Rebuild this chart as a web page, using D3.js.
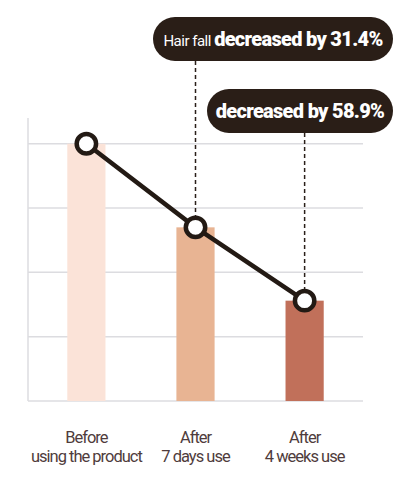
<!DOCTYPE html>
<html>
<head>
<meta charset="utf-8">
<script src="https://cdn.jsdelivr.net/npm/d3@7"></script>
<style>
  body { margin: 0; background: #fff; }
  svg text { font-family: Roboto, "Liberation Sans", sans-serif; }
</style>
</head>
<body>
<div id="body"></div>
<script>
// chart values
let stages = ["before", "week1", "week4"];
let stageLabels = [["Before", "using the product"], ["After", "7 days use"], ["After", "4 weeks use"]];
let hairFall = [100, 67.5, 39];
let barColors = ["#fbe3d8", "#e8b493", "#c1705a"];
let gridTicks = [0, 25, 50, 75, 100];
let callouts = [
  { stage: "week1", light: "Hair fall ", bold: "decreased by 31.4%" },
  { stage: "week4", light: "", bold: "decreased by 58.9%" }
];

let width = 398,
  height = 480;

let svg = d3.select("#body")
  .append("svg")
  .attr("width", width)
  .attr("height", height);

let x = d3.scaleBand()
  .domain(stages)
  .range([28, 363])
  .paddingInner(0.65)
  .paddingOuter(0.36);

let y = d3.scaleLinear()
  .domain([0, 110])
  .range([401, 118]);

// gridlines
svg.selectAll(".grid")
  .data(gridTicks)
  .enter()
  .append("line")
  .attr("x1", 28)
  .attr("x2", 363)
  .attr("y1", (d) => y(d))
  .attr("y2", (d) => y(d))
  .style("stroke", "#dcdce0")
  .style("stroke-width", 1.5);

// left axis line
svg.append("line")
  .attr("x1", 28)
  .attr("x2", 28)
  .attr("y1", y(0))
  .attr("y2", y(110))
  .style("stroke", "#dcdce0")
  .style("stroke-width", 1.5);

// bars
svg.selectAll(".bar")
  .data(hairFall)
  .enter()
  .append("rect")
  .attr("x", (d, i) => x(stages[i]))
  .attr("width", x.bandwidth())
  .attr("y", (d) => y(d))
  .attr("height", (d) => y(0) - y(d))
  .style("fill", (d, i) => barColors[i]);

// callout boxes with dashed leaders
let boxTop = [17, 89];
let boxLeft = [153, 207];
let boxRight = 393;
let boxH = 44;

callouts.forEach(function(c, k) {
  let i = stages.indexOf(c.stage);
  let cx = x(c.stage) + x.bandwidth() / 2;
  svg.append("line")
    .attr("x1", cx)
    .attr("x2", cx)
    .attr("y1", boxTop[k] + boxH)
    .attr("y2", y(hairFall[i]))
    .style("stroke", "#2a1f19")
    .style("stroke-width", 1.5)
    .style("stroke-dasharray", "4,3");

  svg.append("rect")
    .attr("x", boxLeft[k])
    .attr("y", boxTop[k])
    .attr("width", boxRight - boxLeft[k])
    .attr("height", boxH)
    .attr("rx", boxH / 2)
    .style("fill", "#2a1e17");

  let t = svg.append("text")
    .attr("x", (boxLeft[k] + boxRight) / 2)
    .attr("y", boxTop[k] + boxH / 2 + 7)
    .attr("text-anchor", "middle")
    .style("fill", "#fff");
  if (c.light) {
    t.append("tspan")
      .style("font-size", "15px")
      .style("letter-spacing", "-0.5px")
      .text(c.light);
  }
  t.append("tspan")
    .style("font-size", "20px")
    .style("font-weight", "900")
    .style("letter-spacing", "-0.7px")
    .text(c.bold);
});

// connecting line and points
let line = d3.line()
  .x((d, i) => x(stages[i]) + x.bandwidth() / 2)
  .y((d) => y(d));

svg.append("path")
  .datum(hairFall)
  .attr("d", line)
  .style("fill", "none")
  .style("stroke", "#231a14")
  .style("stroke-width", 4.5);

svg.selectAll(".pt")
  .data(hairFall)
  .enter()
  .append("circle")
  .attr("cx", (d, i) => x(stages[i]) + x.bandwidth() / 2)
  .attr("cy", (d) => y(d))
  .attr("r", 9.7)
  .style("fill", "#fff")
  .style("stroke", "#231a14")
  .style("stroke-width", 4.5);

// category labels
let labels = svg.selectAll(".lbl")
  .data(stageLabels)
  .enter()
  .append("text")
  .attr("text-anchor", "middle")
  .attr("x", (d, i) => x(stages[i]) + x.bandwidth() / 2)
  .attr("y", 443)
  .style("font-size", "16.5px")
  .style("letter-spacing", "-1px")
  .style("fill", "#4f3c3c");

labels.append("tspan")
  .text((d) => d[0]);
labels.append("tspan")
  .attr("x", (d, i) => x(stages[i]) + x.bandwidth() / 2)
  .attr("dy", 19)
  .text((d) => d[1]);
</script>
</body>
</html>
